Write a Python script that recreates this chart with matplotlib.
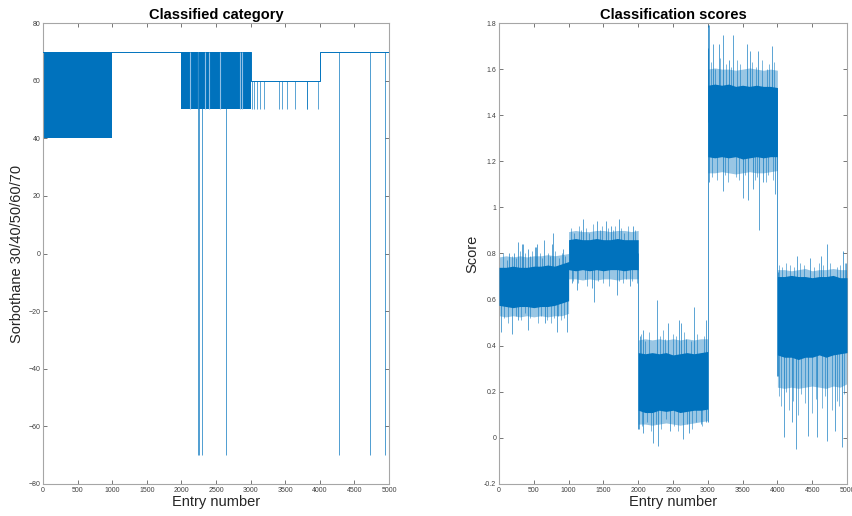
import numpy as np
import matplotlib
matplotlib.use("Agg")
import matplotlib.pyplot as plt
from matplotlib.ticker import FuncFormatter, MultipleLocator

plt.rcParams['font.family'] = ['Liberation Sans', 'DejaVu Sans']

BLUE = '#0072BD'

# ---------------- Left chart data: classified category ----------------
seg_edges = [0, 1000, 2000, 3000, 4000, 5000]
cat_low = [40, 70, 50, 60, 70]      # lower level within each block
cat_high = [70, 70, 70, 60, 70]     # upper level within each block
# entries inside dense blocks where the category briefly stays put (light gaps)
cat_gap_entries = [2124, 2240, 2341, 2399, 2558, 2847, 2875]
# single-entry dips to 50 during the 60 block
cat_dip50_entries = [3016, 3049, 3097, 3136, 3194, 3410, 3450, 3530, 3642, 3815, 3822, 3979]
# single-entry dips to -70
cat_dipm70_entries = [2235, 2255, 2293, 2640, 4282, 4725, 4938]
cat_dip50_value = 50
cat_dipm70_value = -70

# ---------------- Right chart data: classification scores ----------------
band_x = [0, 100, 200, 300, 400, 500, 600, 700, 800, 900, 1000,
          1000, 1100, 1200, 1300, 1400, 1500, 1600, 1700, 1800, 1900, 2000,
          2000, 2100, 2200, 2300, 2400, 2500, 2600, 2700, 2800, 2900, 3000,
          3000, 3100, 3200, 3300, 3400, 3500, 3600, 3700, 3800, 3900, 4000,
          4000, 4100, 4200, 4300, 4400, 4500, 4600, 4700, 4800, 4900, 5000]
core_hi = [0.74, 0.74, 0.745, 0.74, 0.74, 0.745, 0.745, 0.75, 0.745, 0.755, 0.765,
           0.86, 0.865, 0.86, 0.86, 0.865, 0.86, 0.86, 0.865, 0.86, 0.86, 0.86,
           0.37, 0.365, 0.37, 0.365, 0.37, 0.36, 0.365, 0.37, 0.365, 0.37, 0.375,
           1.53, 1.535, 1.53, 1.535, 1.525, 1.53, 1.525, 1.53, 1.525, 1.525, 1.52,
           0.70, 0.70, 0.705, 0.70, 0.70, 0.695, 0.70, 0.70, 0.705, 0.695, 0.695]
core_lo = [0.575, 0.57, 0.565, 0.57, 0.57, 0.565, 0.57, 0.57, 0.575, 0.585, 0.595,
           0.73, 0.725, 0.73, 0.725, 0.73, 0.725, 0.73, 0.73, 0.725, 0.73, 0.73,
           0.12, 0.11, 0.11, 0.12, 0.115, 0.12, 0.11, 0.115, 0.12, 0.12, 0.125,
           1.22, 1.215, 1.22, 1.215, 1.22, 1.21, 1.215, 1.22, 1.215, 1.22, 1.22,
           0.36, 0.35, 0.35, 0.34, 0.35, 0.35, 0.36, 0.35, 0.36, 0.365, 0.37]
fringe_hi = [0.785, 0.79, 0.785, 0.79, 0.785, 0.79, 0.79, 0.795, 0.79, 0.795, 0.80,
             0.895, 0.90, 0.895, 0.895, 0.90, 0.90, 0.895, 0.90, 0.90, 0.895, 0.90,
             0.425, 0.43, 0.425, 0.43, 0.425, 0.43, 0.425, 0.43, 0.425, 0.43, 0.43,
             1.60, 1.605, 1.60, 1.60, 1.595, 1.60, 1.605, 1.60, 1.595, 1.60, 1.595,
             0.73, 0.73, 0.725, 0.73, 0.735, 0.725, 0.73, 0.73, 0.735, 0.73, 0.73]
fringe_lo = [0.53, 0.525, 0.53, 0.525, 0.53, 0.525, 0.53, 0.525, 0.53, 0.53, 0.54,
             0.69, 0.69, 0.685, 0.69, 0.685, 0.69, 0.69, 0.685, 0.69, 0.69, 0.69,
             0.06, 0.06, 0.055, 0.06, 0.065, 0.06, 0.055, 0.06, 0.065, 0.07, 0.075,
             1.15, 1.15, 1.155, 1.15, 1.145, 1.15, 1.155, 1.15, 1.15, 1.155, 1.16,
             0.22, 0.215, 0.22, 0.215, 0.22, 0.225, 0.22, 0.215, 0.225, 0.22, 0.235]
seg_center = [0.67, 0.80, 0.24, 1.37, 0.53]

# prominent spikes
spike_entries = [24, 147, 182, 220, 268, 278, 326, 349, 412, 422, 517, 532, 548, 652, 661, 757, 780, 829, 924, 972,
                 1044, 1116, 1202, 1330, 1370, 1403, 1537, 1610, 1691, 1728, 1882, 1930,
                 2010, 2026, 2070, 2074, 2208, 2275, 2280, 2433, 2457, 2591, 2620, 2639, 2690, 2734, 2807, 2898, 2974, 2980,
                 3005, 3012, 3017, 3080, 3155, 3214, 3220, 3310, 3367, 3510, 3568, 3583, 3600, 3654, 3726, 3740, 3797, 3918, 3966,
                 4004, 4012, 4099, 4205, 4267, 4277, 4444, 4475, 4569, 4620, 4708, 4718, 4822, 4924, 4947, 4990]
spike_values = [0.46, 0.80, 0.45, 0.80, 0.85, 0.51, 0.84, 0.84, 0.47, 0.82, 0.83, 0.83, 0.84, 0.86, 0.50, 0.84, 0.89, 0.46, 0.82, 0.46,
                0.67, 0.64, 0.95, 0.65, 0.59, 0.94, 0.94, 0.92, 0.62, 0.95, 0.66, 0.92,
                0.04, 0.44, 0.02, 0.47, -0.02, 0.60, -0.035, 0.50, 0.03, 0.51, 0.50, -0.005, 0.43, 0.02, 0.57, 0.06, 0.51, 0.07,
                1.69, 1.79, 1.11, 1.71, 1.71, 1.75, 1.07, 1.64, 1.75, 1.04, 1.71, 1.03, 1.68, 1.08, 1.68, 0.90, 1.11, 1.70, 1.06,
                0.72, 0.27, 0.005, 0.07, -0.05, 0.79, 0.01, 0.78, 0.005, 0.79, -0.015, 0.84, 0.03, -0.04, 0.81, 0.76]
# smaller spikes that make the ragged band edges
minor_entries = [60, 110, 190, 250, 300, 380, 450, 480, 590, 620, 700, 730, 800, 860, 900, 950,
                 75, 130, 240, 310, 370, 440, 560, 610, 690, 740, 790, 850, 890, 940,
                 1030, 1080, 1150, 1180, 1250, 1290, 1350, 1450, 1480, 1570, 1640, 1660, 1760, 1800, 1850, 1960,
                 1060, 1140, 1230, 1270, 1420, 1500, 1580, 1720, 1780, 1830, 1910, 1980,
                 2040, 2100, 2150, 2310, 2350, 2390, 2500, 2540, 2660, 2760, 2850, 2940,
                 2050, 2120, 2180, 2250, 2330, 2400, 2520, 2570, 2700, 2780, 2830, 2920,
                 3040, 3110, 3180, 3260, 3330, 3420, 3460, 3630, 3690, 3780, 3850, 3880, 3950,
                 3060, 3130, 3250, 3290, 3400, 3450, 3540, 3680, 3710, 3830, 3870, 3940,
                 4030, 4060, 4130, 4180, 4240, 4320, 4380, 4530, 4600, 4660, 4760, 4860, 4900, 4970,
                 4020, 4050, 4120, 4160, 4230, 4300, 4340, 4400, 4500, 4550, 4640, 4690, 4780, 4850, 4880, 4960]
minor_values = [0.80, 0.77, 0.79, 0.78, 0.81, 0.80, 0.79, 0.81, 0.80, 0.78, 0.80, 0.79, 0.81, 0.78, 0.80, 0.79,
                0.52, 0.50, 0.53, 0.51, 0.54, 0.52, 0.50, 0.53, 0.51, 0.50, 0.52, 0.53, 0.51, 0.52,
                0.91, 0.89, 0.92, 0.90, 0.91, 0.89, 0.93, 0.90, 0.92, 0.91, 0.90, 0.92, 0.91, 0.89, 0.92, 0.90,
                0.68, 0.67, 0.69, 0.66, 0.68, 0.67, 0.66, 0.68, 0.67, 0.69, 0.68, 0.67,
                0.45, 0.42, 0.46, 0.44, 0.47, 0.43, 0.45, 0.44, 0.46, 0.42, 0.45, 0.44,
                0.05, 0.07, 0.03, 0.06, 0.04, 0.08, 0.05, 0.03, 0.06, 0.04, 0.07, 0.05,
                1.63, 1.60, 1.65, 1.62, 1.61, 1.64, 1.62, 1.63, 1.61, 1.64, 1.60, 1.62, 1.63,
                1.13, 1.12, 1.14, 1.11, 1.13, 1.12, 1.14, 1.12, 1.13, 1.11, 1.14, 1.12,
                0.75, 0.74, 0.76, 0.75, 0.74, 0.76, 0.75, 0.74, 0.76, 0.75, 0.76, 0.74, 0.75, 0.76,
                0.18, 0.14, 0.20, 0.12, 0.16, 0.10, 0.19, 0.15, 0.11, 0.17, 0.13, 0.18, 0.12, 0.16, 0.14, 0.19]
trans_entries = [2000, 3000, 4000]
trans_lo = [0.04, 0.07, 0.27]
trans_hi = [0.80, 1.79, 1.52]

# ---------------- Figure ----------------
fig = plt.figure(figsize=(8.52, 5.16), dpi=100)
axL = fig.add_axes([43 / 852, 1 - 484 / 516, 346 / 852, 461 / 516])
axR = fig.add_axes([499 / 852, 1 - 484 / 516, 348 / 852, 461 / 516])

# Left: dense blocks
for i in range(len(cat_low)):
    if cat_low[i] != cat_high[i]:
        axL.fill_between([seg_edges[i], seg_edges[i + 1]], cat_low[i], cat_high[i],
                         color=BLUE, linewidth=0, zorder=2)
axL.step(seg_edges, cat_high + [cat_high[-1]], where='post', color=BLUE, lw=0.7, zorder=3)
axL.vlines(cat_gap_entries, 50, 70, color='#8fbfe6', lw=0.8, zorder=3)
axL.vlines(cat_dip50_entries, cat_dip50_value, 60, color=BLUE, lw=0.6, alpha=0.75, zorder=3)
base_at = [cat_high[np.searchsorted(seg_edges, e, side='right') - 1] for e in cat_dipm70_entries]
axL.vlines(cat_dipm70_entries, cat_dipm70_value, base_at, color=BLUE, lw=0.6, alpha=0.8, zorder=3)

axL.set_xlim(0, 5000)
axL.set_ylim(-80, 80)
axL.xaxis.set_major_locator(MultipleLocator(500))
axL.yaxis.set_major_locator(MultipleLocator(20))
axL.set_title('Classified category', fontsize=10.5, fontweight='bold', pad=3)
axL.set_xlabel('Entry number', fontsize=10.5, labelpad=1)
axL.set_ylabel('Sorbothane 30/40/50/60/70', fontsize=10.5, labelpad=3)

# Right: score bands
axR.fill_between(band_x, fringe_lo, fringe_hi, color=BLUE, alpha=0.4, linewidth=0, zorder=2)
axR.fill_between(band_x, core_lo, core_hi, color=BLUE, linewidth=0, zorder=3)


def seg_of(e):
    return min(int(np.searchsorted(seg_edges, e, side='right')) - 1, 4)


def draw_spikes(entries, values, lw, alpha):
    c = [seg_center[seg_of(e)] for e in entries]
    axR.vlines(entries, np.minimum(c, values), np.maximum(c, values),
               color=BLUE, lw=lw, alpha=alpha, zorder=4)


draw_spikes(minor_entries, minor_values, 0.6, 0.6)
draw_spikes(spike_entries, spike_values, 0.6, 0.75)
axR.vlines(trans_entries, trans_lo, trans_hi, color=BLUE, lw=0.6, alpha=0.85, zorder=4)

axR.set_xlim(0, 5000)
axR.set_ylim(-0.2, 1.8)
axR.xaxis.set_major_locator(MultipleLocator(500))
axR.yaxis.set_major_locator(MultipleLocator(0.2))
axR.yaxis.set_major_formatter(FuncFormatter(lambda v, p: '%g' % round(v, 2)))
axR.set_title('Classification scores', fontsize=10.5, fontweight='bold', pad=3)
axR.set_xlabel('Entry number', fontsize=10.5, labelpad=1)
axR.set_ylabel('Score', fontsize=10.5, labelpad=3)

for ax in (axL, axR):
    for s in ax.spines.values():
        s.set_color('#a6a6a6')
        s.set_linewidth(0.8)
    ax.tick_params(direction='in', length=3, width=0.6, color='#606060', labelsize=5,
                   labelcolor='#404040', top=True, right=True, pad=2)
    ax.xaxis.label.set_color('#262626')
    ax.yaxis.label.set_color('#262626')

fig.savefig('out.png', dpi=100)
